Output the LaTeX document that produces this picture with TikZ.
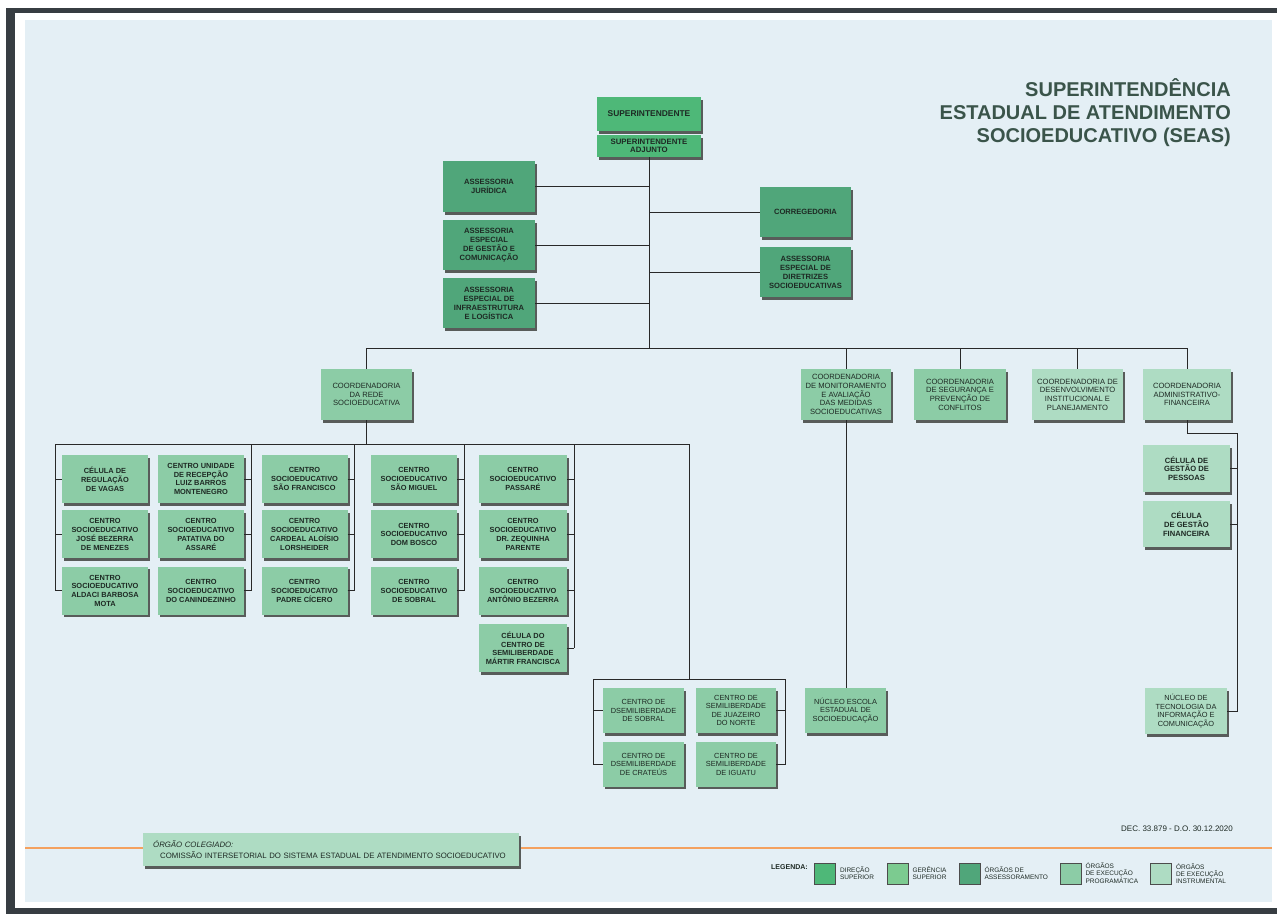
\documentclass[tikz,border=0pt]{standalone}
\usepackage{fontspec}
\setmainfont{Liberation Sans}
\usepackage{tikz}
\usetikzlibrary{calc,positioning,shadows}
\definecolor{bgblue}{RGB}{228,239,245}
\definecolor{framedark}{RGB}{55,61,66}
\definecolor{dirsup}{RGB}{78,184,120}
\definecolor{gersup}{RGB}{124,203,144}
\definecolor{assess}{RGB}{80,166,122}
\definecolor{progr}{RGB}{140,204,166}
\definecolor{instr}{RGB}{174,220,195}
\definecolor{titlegray}{RGB}{58,84,74}
\definecolor{linegray}{RGB}{40,40,40}
\definecolor{shadowgray}{RGB}{88,92,90}
\definecolor{orangeline}{RGB}{244,161,95}
\definecolor{boxtext}{RGB}{30,42,36}
\tikzset{%
	orgbox/.style   = {rectangle, inner sep=0pt, align=center, text=boxtext, drop shadow={shadow xshift=2pt, shadow yshift=-2.5pt, fill=shadowgray, opacity=1}},
	dirbox/.style   = {orgbox, fill=dirsup, minimum width=104pt, font=\fontsize{8.4}{9.6}\selectfont\bfseries},
	assbox/.style   = {orgbox, fill=assess, minimum width=92pt, minimum height=50pt, font=\fontsize{7.6}{9}\selectfont\bfseries},
	coordbox/.style = {orgbox, minimum width=90pt, minimum height=51pt, font=\fontsize{7.6}{8.6}\selectfont},
	unitbox/.style  = {orgbox, fill=progr, minimum width=86pt, minimum height=48pt, font=\fontsize{7.4}{8.8}\selectfont\bfseries},
	semibox/.style  = {orgbox, minimum width=81pt, minimum height=45pt, font=\fontsize{7.4}{8.6}\selectfont},
	celbox/.style   = {orgbox, fill=instr, minimum width=87pt, minimum height=47pt, font=\fontsize{7.6}{8.8}\selectfont\bfseries},
	orgline/.style  = {draw=linegray, line width=0.9pt},
	titletext/.style= {anchor=base east, inner sep=0pt, text=titlegray, font=\fontsize{20}{23}\selectfont\bfseries},
	legsq/.style    = {draw=black!70, line width=0.6pt, minimum size=21pt, inner sep=0pt},
	legtext/.style  = {align=left, inner sep=0pt, text=boxtext, font=\fontsize{6.5}{7}\selectfont},
}

\begin{document}
\begin{tikzpicture}[x=1pt,y=-1pt]
	\useasboundingbox (0,0) rectangle (1277,914);
	\fill[white] (0,0) rectangle (1277,914);
	\fill[framedark] (6,8) rectangle (1277,914);  % frame
	\fill[white] (15,13) rectangle (1277,908);
	\fill[bgblue] (25,20) rectangle (1272,902);

	% title
	\node[titletext] (title1) at (1231,96) {SUPERINTENDÊNCIA};
	\node[titletext] (title2) at (1231,119) {ESTADUAL DE ATENDIMENTO};
	\node[titletext] (title3) at (1231,142) {SOCIOEDUCATIVO (SEAS)};

	% direction and advisory boards
	\node[dirbox, minimum height=34pt] (sup) at (649,114) {SUPERINTENDENTE};
	\node[dirbox, minimum height=22pt, font=\fontsize{7.8}{8.6}\selectfont\bfseries] (supadj) at (649,146) {SUPERINTENDENTE\\ADJUNTO};
	\node[assbox, minimum height=51pt] (jur) at (489,186.5) {ASSESSORIA\\JURÍDICA};
	\node[assbox] (gescom) at (489,245) {ASSESSORIA\\ESPECIAL\\DE GESTÃO E\\COMUNICAÇÃO};
	\node[assbox] (infra) at (489,303) {ASSESSORIA\\ESPECIAL DE\\INFRAESTRUTURA\\E LOGÍSTICA};
	\node[assbox, minimum width=91pt] (correg) at (805.5,212) {CORREGEDORIA};
	\node[assbox, minimum width=91pt] (diretr) at (805.5,272) {ASSESSORIA\\ESPECIAL DE\\DIRETRIZES\\SOCIOEDUCATIVAS};

	\coordinate (trunk) at (649,348);
	\draw[orgline] (supadj.south) -- (trunk);
	\foreach \n in {jur,gescom,infra} \draw[orgline] (\n.east) -- (\n.east -| trunk);
	\foreach \n in {correg,diretr} \draw[orgline] (\n.west) -- (\n.west -| trunk);

	% coordenadorias
	\node[coordbox, fill=progr, minimum width=91pt] (rede) at (366.5,394.5) {COORDENADORIA\\DA REDE\\SOCIOEDUCATIVA};
	\node[coordbox, fill=progr] (monit) at (846,394.5) {COORDENADORIA\\DE MONITORAMENTO\\E AVALIAÇÃO\\DAS MEDIDAS\\SOCIOEDUCATIVAS};
	\node[coordbox, fill=progr, minimum width=92pt] (seg) at (960,394.5) {COORDENADORIA\\DE SEGURANÇA E\\PREVENÇÃO DE\\CONFLITOS};
	\node[coordbox, fill=instr, minimum width=91pt] (desenv) at (1077.5,394.5) {COORDENADORIA DE\\DESENVOLVIMENTO\\INSTITUCIONAL E\\PLANEJAMENTO};
	\node[coordbox, fill=instr, minimum width=88pt] (admin) at (1187,394.5) {COORDENADORIA\\ADMINISTRATIVO-\\FINANCEIRA};

	\draw[orgline] (rede.north |- trunk) -- (admin.north |- trunk);
	\foreach \n in {rede,monit,seg,desenv,admin} \draw[orgline] (\n.north |- trunk) -- (\n.north);

	% rede socioeducativa
	\node[unitbox] (u11) at (105,479) {CÉLULA DE\\REGULAÇÃO\\DE VAGAS};
	\node[unitbox, below=7pt of u11] (u12) {CENTRO\\SOCIOEDUCATIVO\\JOSÉ BEZERRA\\DE MENEZES};
	\node[unitbox, below=8pt of u12] (u13) {CENTRO\\SOCIOEDUCATIVO\\ALDACI BARBOSA\\MOTA};
	\node[unitbox] (u21) at (201,479) {CENTRO UNIDADE\\DE RECEPÇÃO\\LUIZ BARROS\\MONTENEGRO};
	\node[unitbox, below=7pt of u21] (u22) {CENTRO\\SOCIOEDUCATIVO\\PATATIVA DO\\ASSARÉ};
	\node[unitbox, below=8pt of u22] (u23) {CENTRO\\SOCIOEDUCATIVO\\DO CANINDEZINHO};
	\node[unitbox] (u31) at (304.5,479) {CENTRO\\SOCIOEDUCATIVO\\SÃO FRANCISCO};
	\node[unitbox, below=7pt of u31] (u32) {CENTRO\\SOCIOEDUCATIVO\\CARDEAL ALOÍSIO\\LORSHEIDER};
	\node[unitbox, below=8pt of u32] (u33) {CENTRO\\SOCIOEDUCATIVO\\PADRE CÍCERO};
	\node[unitbox] (u41) at (414,479) {CENTRO\\SOCIOEDUCATIVO\\SÃO MIGUEL};
	\node[unitbox, below=7pt of u41] (u42) {CENTRO\\SOCIOEDUCATIVO\\DOM BOSCO};
	\node[unitbox, below=8pt of u42] (u43) {CENTRO\\SOCIOEDUCATIVO\\DE SOBRAL};
	\node[unitbox, minimum width=88pt] (u51) at (523,479) {CENTRO\\SOCIOEDUCATIVO\\PASSARÉ};
	\node[unitbox, minimum width=88pt, below=7pt of u51] (u52) {CENTRO\\SOCIOEDUCATIVO\\DR. ZEQUINHA\\PARENTE};
	\node[unitbox, minimum width=88pt, below=8pt of u52] (u53) {CENTRO\\SOCIOEDUCATIVO\\ANTÔNIO BEZERRA};
	\node[unitbox, minimum width=88pt, below=9pt of u53] (u54) {CÉLULA DO\\CENTRO DE\\SEMILIBERDADE\\MÁRTIR FRANCISCA};

	\coordinate (busw) at (55,444);
	\coordinate (buse) at (689,444);
	\draw[orgline] (rede.south) -- (rede.south |- busw);
	\draw[orgline] (busw) -- (buse);
	\draw[orgline] (busw) |- (u13.west);
	\foreach \rr in {1,2} \draw[orgline] (u1\rr.west -| busw) -- (u1\rr.west);
	\foreach \c/\last in {2/3,3/3,4/3,5/4} {
		\draw[orgline] (u\c\last.east) -- ++(7,0) coordinate (br\c);
		\draw[orgline] (br\c) -- (br\c |- busw);
		\foreach \rr in {1,...,\last} \draw[orgline] (u\c\rr.east) -- (u\c\rr.east -| br\c);
	}

	% semiliberdade
	\node[semibox, fill=progr] (s11) at (643.5,710.5) {CENTRO DE\\DSEMILIBERDADE\\DE SOBRAL};
	\node[semibox, fill=progr, below=8.5pt of s11] (s12) {CENTRO DE\\DSEMILIBERDADE\\DE CRATEÚS};
	\node[semibox, fill=progr, minimum width=80pt] (s21) at (736,710.5) {CENTRO DE\\SEMILIBERDADE\\DE JUAZEIRO\\DO NORTE};
	\node[semibox, fill=progr, minimum width=80pt, below=8.5pt of s21] (s22) {CENTRO DE\\SEMILIBERDADE\\DE IGUATU};
	\coordinate (semitop) at (689,679);
	\draw[orgline] (buse) -- (semitop);
	\draw[orgline] (s12.west) -- ++(-9,0) |- (semitop);
	\draw[orgline] (s22.east) -- ++(9,0) |- (semitop);
	\draw[orgline] (s11.west) -- ++(-9,0);
	\draw[orgline] (s21.east) -- ++(9,0);

	% nucleo escola
	\node[semibox, fill=progr] (escola) at (845.5,710.5) {NÚCLEO ESCOLA\\ESTADUAL DE\\SOCIOEDUCAÇÃO};
	\draw[orgline] (monit.south) -- (monit.south |- escola.north);

	% administrativo-financeira
	\node[celbox] (pessoas) at (1186.5,468.5) {CÉLULA DE\\GESTÃO DE\\PESSOAS};
	\node[celbox, minimum height=46pt, below=9pt of pessoas] (financ) {CÉLULA\\DE GESTÃO\\FINANCEIRA};
	\node[semibox, fill=instr, minimum width=82pt, minimum height=46pt] (tec) at (1186,711) {NÚCLEO DE\\TECNOLOGIA DA\\INFORMAÇÃO E\\COMUNICAÇÃO};
	\coordinate (admbend) at (1237,433);
	\draw[orgline] (admin.south) |- (admbend) -- (admbend |- tec.east) -- (tec.east);
	\foreach \n in {pessoas,financ} \draw[orgline] (\n.east) -- (\n.east -| admbend);

	% footer
	\node[anchor=base east, inner sep=0pt, text=boxtext, font=\fontsize{8}{9}\selectfont] (dec) at (1233,831) {DEC. 33.879 - D.O. 30.12.2020};
	\draw[orangeline, line width=2.5pt] (25,848) -- (1272,848);
	\node[orgbox, fill=instr, anchor=north west, align=left, text width=356pt, inner xsep=10pt, minimum height=33pt, font=\fontsize{7.8}{11}\selectfont] (coleg) at (143,833) {{\itshape ÓRGÃO COLEGIADO:}\\\hspace*{7pt}COMISSÃO INTERSETORIAL DO SISTEMA ESTADUAL DE ATENDIMENTO SOCIOEDUCATIVO};

	% legend
	\node[anchor=base west, inner sep=0pt, text=boxtext, font=\fontsize{7}{8}\selectfont\bfseries] (legenda) at (771,869) {LEGENDA:};
	\node[legsq, fill=dirsup] (lg1) at (825,873.5) {};
	\node[legsq, fill=gersup] (lg2) at (897.5,873.5) {};
	\node[legsq, fill=assess] (lg3) at (969.5,873.5) {};
	\node[legsq, fill=progr] (lg4) at (1070.5,873.5) {};
	\node[legsq, fill=instr] (lg5) at (1161,873.5) {};
	\node[legtext, right=4pt of lg1] (lt1) {DIREÇÃO\\SUPERIOR};
	\node[legtext, right=4pt of lg2] (lt2) {GERÊNCIA\\SUPERIOR};
	\node[legtext, right=4pt of lg3] (lt3) {ÓRGÃOS DE\\ASSESSORAMENTO};
	\node[legtext, right=4pt of lg4] (lt4) {ÓRGÃOS\\DE EXECUÇÃO\\PROGRAMÁTICA};
	\node[legtext, right=4pt of lg5] (lt5) {ÓRGÃOS\\DE EXECUÇÃO\\INSTRUMENTAL};
\end{tikzpicture}
\end{document}
